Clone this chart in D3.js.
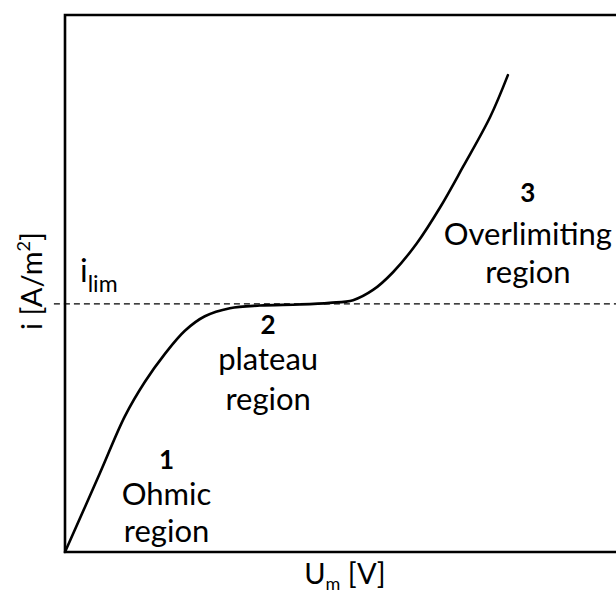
<!DOCTYPE html>
<html>
<head>
<meta charset="utf-8">
<script src="https://cdn.jsdelivr.net/npm/d3@7"></script>
<style>
  html, body { margin: 0; padding: 0; background: #fff; }
  svg { display: block; }
  text { font-family: Lato, "Open Sans", sans-serif; fill: #000; }
</style>
</head>
<body>
<svg id="chart" width="616" height="596"></svg>
<script>
// Current–voltage curve of an ion-exchange membrane
const voltage = [0, 0.63, 1.08, 1.44, 1.80, 2.16, 2.52, 2.97, 3.51, 4.23, 4.77, 5.19, 5.55, 5.91, 6.34, 6.76, 7.17, 7.66, 7.98];
const current = [0, 1.47, 2.53, 3.17, 3.69, 4.12, 4.39, 4.54, 4.59, 4.61, 4.64, 4.69, 4.88, 5.21, 5.75, 6.42, 7.17, 8.10, 8.88];
const iLim = 4.62;

// Region annotations
const regionNumbers = ["1", "2", "3"];
const regionLine1 = ["Ohmic", "plateau", "Overlimiting"];
const regionLine2 = ["region", "region", "region"];

// Label layout: anchor (data units) and line offsets in px
const regionAnchorX = [1.83, 3.66, 8.34];
const regionAnchorY = [1.55, 4.06, 6.52];
const line1Gap = [36, 36, 43];
const line2Gap = [37, 40, 38];

const svg = d3.select("#chart");
const plotLeft = 65, plotTop = 15, plotBottom = 552, plotRight = 620;

const x = d3.scaleLinear().domain([0, 10]).range([plotLeft, plotRight]);
const y = d3.scaleLinear().domain([0, 10]).range([plotBottom, plotTop]);

// Frame (left, top, bottom)
svg.append("path")
  .attr("d", `M${plotRight + 5},${y(10)} H${x(0)} V${y(0)} H${plotRight + 5}`)
  .attr("fill", "none")
  .attr("stroke", "#000")
  .attr("stroke-width", 2.6);

// Limiting current line
svg.append("line")
  .attr("x1", x(-0.2)).attr("x2", x(10))
  .attr("y1", y(iLim)).attr("y2", y(iLim))
  .attr("stroke", "#000")
  .attr("stroke-width", 1.1)
  .attr("stroke-dasharray", "6,4");

// I–V curve
const pts = voltage.map((v, k) => [v, current[k]]);
svg.append("path")
  .datum(pts)
  .attr("fill", "none")
  .attr("stroke", "#000")
  .attr("stroke-width", 2.6)
  .attr("stroke-linecap", "round")
  .attr("d", d3.line().x(d => x(d[0])).y(d => y(d[1])).curve(d3.curveCatmullRom.alpha(0.5)));

// Region labels: bold number followed by two lines of text
regionNumbers.forEach((n, k) => {
  const cx = x(regionAnchorX[k]), cy = y(regionAnchorY[k]);
  const t = svg.append("text").attr("x", cx).attr("y", cy)
    .attr("text-anchor", "middle").attr("font-size", 31);
  t.append("tspan").attr("font-size", 26).attr("font-weight", "bold").text(n);
  t.append("tspan").attr("x", cx).attr("dy", line1Gap[k]).text(regionLine1[k]);
  t.append("tspan").attr("x", cx).attr("dy", line2Gap[k]).text(regionLine2[k]);
});

// i_lim label
const lim = svg.append("text").attr("x", 80).attr("y", 282).attr("font-size", 32);
lim.append("tspan").text("i");
lim.append("tspan").attr("font-size", 23).attr("dy", 10).text("lim");

// Axis titles
svg.append("text")
  .attr("x", 345).attr("y", 584)
  .attr("text-anchor", "middle").attr("font-size", 29)
  .call(t => {
    t.append("tspan").text("U");
    t.append("tspan").attr("font-size", 18).attr("dy", 6).text("m");
    t.append("tspan").attr("dy", -6).text(" [V]");
  });

svg.append("text")
  .attr("transform", `translate(42,281) rotate(-90)`)
  .attr("text-anchor", "middle").attr("font-size", 29)
  .call(t => {
    t.append("tspan").text("i [A/m");
    t.append("tspan").attr("font-size", 18).attr("dy", -12).text("2");
    t.append("tspan").attr("dy", 12).text("]");
  });
</script>
</body>
</html>
